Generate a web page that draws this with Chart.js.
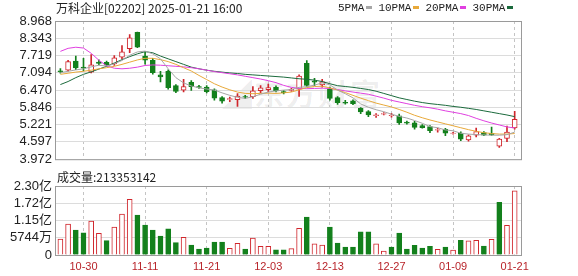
<!DOCTYPE html>
<html>
<head>
<meta charset="utf-8">
<script src="https://cdn.jsdelivr.net/npm/chart.js@4/dist/chart.umd.min.js"></script>
<style>
  body { margin: 0; width: 578px; height: 276px; overflow: hidden; position: relative; background: #fff;
         font-family: "Noto Sans CJK SC", sans-serif; color: #222; }
  canvas { position: absolute; left: 0; z-index: 1; }
  #priceChart { top: 0; }
  #volChart { top: 170px; }
  .txt { position: absolute; z-index: 2; white-space: nowrap; line-height: 16px; }
  #title { left: 56px; top: 0; font-size: 12px; }
  #legend { left: 338px; top: 0; font-size: 11px; font-family: "Liberation Mono", monospace; }
  #legend i { display: inline-block; width: 6px; height: 3px; margin: 0 6px 2px 2px; vertical-align: middle; }
  #volTitle { left: 57px; top: 169px; font-size: 12px; }
  #wm { position: absolute; z-index: 0; left: 222px; top: 70px; font-size: 30px; font-weight: bold;
        color: rgba(0,0,0,0.07); letter-spacing: 2px; }
</style>
</head>
<body>
<div id="wm">◢东方财富</div>
<canvas id="priceChart" width="578" height="170"></canvas>
<canvas id="volChart" width="578" height="106"></canvas>
<div class="txt" id="title">万科企业[02202] 2025-01-21 16:00</div>
<div class="txt" id="legend">5PMA<i style="background:#a6a6a6"></i>10PMA<i style="background:#e8a93a"></i>20PMA<i style="background:#e040e0"></i>30PMA<i style="background:#1b6a3c"></i></div>
<div class="txt" id="volTitle">成交量:213353142</div>
<script>
const dates = ["10-25","10-28","10-29","10-30","10-31","11-01","11-04","11-05","11-06","11-07",
  "11-08","11-11","11-12","11-13","11-14","11-15","11-18","11-19","11-20","11-21",
  "11-22","11-25","11-26","11-27","11-28","11-29","12-02","12-03","12-04","12-05",
  "12-06","12-09","12-10","12-11","12-12","12-13","12-16","12-17","12-18","12-19",
  "12-20","12-23","12-24","12-27","12-30","12-31","01-02","01-03","01-06","01-07",
  "01-08","01-09","01-10","01-13","01-14","01-15","01-16","01-17","01-20","01-21"];
const tickIdx = [3, 11, 19, 27, 35, 43, 51, 59];

const opens = [7.17,7.19,7.52,7.30,7.12,7.48,7.47,7.42,7.66,7.97,
  8.56,7.70,7.55,7.02,7.15,6.63,6.47,6.75,6.60,6.58,
  6.48,6.20,6.13,6.12,6.24,6.23,6.45,6.49,6.57,6.42,
  6.46,6.50,7.44,6.80,6.66,6.52,6.20,6.03,6.08,5.81,
  5.69,5.55,5.60,5.55,5.54,5.31,5.29,5.19,5.15,5.02,
  5.05,4.90,4.92,4.67,4.84,4.93,4.91,4.44,4.72,5.10];
const highs = [7.25,7.55,7.70,7.62,7.75,7.56,7.52,7.72,8.08,8.48,
  8.57,7.85,7.62,7.15,7.20,6.67,6.86,6.81,6.64,6.63,
  6.52,6.24,6.22,6.34,6.28,6.60,6.63,6.69,6.62,6.45,
  6.53,7.02,7.54,6.90,6.86,6.58,6.24,6.10,6.12,5.84,
  5.73,5.62,5.66,5.63,5.60,5.35,5.34,5.22,5.19,5.10,
  5.09,4.94,4.96,4.85,5.10,4.97,5.13,4.73,5.17,5.70];
const lows = [7.08,7.15,7.21,7.17,7.09,7.38,7.33,7.36,7.60,7.82,
  8.00,7.41,7.05,6.77,6.50,6.38,6.40,6.46,6.53,6.37,
  6.11,6.00,6.05,5.88,6.16,6.17,6.37,6.40,6.40,6.33,
  6.42,6.24,6.60,6.63,6.58,6.11,5.95,5.96,5.94,5.62,
  5.51,5.48,5.57,5.49,5.23,5.24,5.06,5.09,4.93,4.95,
  4.82,4.88,4.64,4.62,4.78,4.82,4.83,4.40,4.61,5.06];
const closes = [7.14,7.50,7.27,7.26,7.38,7.43,7.38,7.64,7.85,8.36,
  8.02,7.55,7.10,6.95,6.56,6.42,6.60,6.59,6.57,6.41,
  6.18,6.07,6.16,6.25,6.21,6.44,6.55,6.56,6.44,6.38,
  6.50,6.98,6.64,6.76,6.77,6.17,6.02,6.00,5.98,5.68,
  5.57,5.58,5.62,5.57,5.28,5.27,5.12,5.11,5.00,5.04,
  4.91,4.92,4.70,4.82,4.97,4.84,4.85,4.70,4.95,5.41];

const ma5 = [7.10,7.15,7.20,7.24,7.31,7.37,7.34,7.42,7.54,7.73,
  7.85,7.88,7.78,7.60,7.24,6.92,6.73,6.62,6.55,6.51,
  6.47,6.37,6.28,6.21,6.17,6.23,6.32,6.40,6.44,6.47,
  6.49,6.57,6.59,6.65,6.73,6.66,6.47,6.34,6.19,5.97,
  5.85,5.76,5.69,5.60,5.52,5.46,5.37,5.27,5.15,5.11,
  5.03,5.00,4.91,4.88,4.86,4.85,4.84,4.84,4.86,4.95];
const ma10 = [7.04,7.08,7.12,7.15,7.19,7.24,7.28,7.33,7.40,7.48,
  7.56,7.62,7.62,7.57,7.50,7.40,7.28,7.16,7.00,6.85,
  6.70,6.58,6.48,6.40,6.35,6.34,6.35,6.36,6.35,6.37,
  6.40,6.48,6.56,6.60,6.61,6.55,6.47,6.38,6.28,6.18,
  6.09,6.00,5.93,5.86,5.77,5.67,5.56,5.47,5.39,5.32,
  5.25,5.18,5.11,5.04,4.98,4.93,4.90,4.88,4.88,4.90];
const ma20 = [7.87,7.98,8.02,7.99,7.80,7.55,7.35,7.26,7.24,7.26,
  7.30,7.36,7.38,7.37,7.35,7.33,7.31,7.28,7.24,7.19,
  7.14,7.10,7.06,7.02,6.97,6.92,6.87,6.81,6.74,6.64,
  6.57,6.53,6.52,6.53,6.54,6.53,6.49,6.44,6.40,6.36,
  6.32,6.25,6.18,6.10,6.04,5.98,5.92,5.87,5.83,5.78,
  5.72,5.67,5.62,5.55,5.45,5.36,5.28,5.21,5.14,5.10];
const ma30 = [6.67,6.78,6.92,7.04,7.13,7.23,7.33,7.45,7.57,7.68,
  7.78,7.86,7.82,7.70,7.60,7.50,7.40,7.30,7.24,7.19,
  7.15,7.12,7.09,7.07,7.04,7.02,7.00,6.98,6.96,6.94,
  6.91,6.88,6.86,6.83,6.78,6.70,6.63,6.60,6.57,6.53,
  6.49,6.43,6.35,6.27,6.19,6.13,6.07,6.02,5.98,5.95,
  5.92,5.88,5.85,5.81,5.77,5.72,5.67,5.62,5.57,5.51];

const volumes = [53000000,103000000,83000000,74000000,113000000,72000000,48000000,93000000,136000000,185000000,
  133000000,100000000,83000000,63000000,87000000,41000000,59000000,33000000,20000000,23000000,
  43000000,43000000,22000000,39000000,20000000,56000000,29000000,29000000,17000000,17000000,
  21000000,89000000,126000000,37000000,33000000,93000000,40000000,26000000,26000000,77000000,
  77000000,37000000,13000000,26000000,73000000,20000000,32000000,23000000,29000000,19000000,
  26000000,16000000,49000000,47000000,49000000,30000000,52000000,175000000,99000000,213353142];

const priceTicks = [3.972, 4.597, 5.221, 5.846, 6.470, 7.094, 7.719, 8.343, 8.968];
const volTicks = [0, 57440000, 114880000, 172320000, 229760000];
const volTickLabels = ["0", "5744万", "1.15亿", "1.72亿", "2.30亿"];

const RED = "#d0262c";
const GREEN = "#13801c";

const candleUp = closes.map((c, i) => c > opens[i]);
const volUp = closes.map((c, i) => i === 0 || c > closes[i - 1]);

const frame = {
  id: "frame",
  beforeDatasetsDraw(chart) {
    const { ctx, chartArea: a } = chart;
    ctx.save();
    ctx.strokeStyle = "#9a9a9a";
    ctx.lineWidth = 1;
    ctx.strokeRect(a.left + 0.5, a.top + 0.5, a.right - a.left - 1, a.bottom - a.top);
    ctx.restore();
  }
};

const xScale = (showLabels) => ({
  type: "linear",
  min: -0.7,
  max: 59.95,
  offset: false,
  afterBuildTicks: (s) => { s.ticks = tickIdx.map(v => ({ value: v })); },
  afterFit: (s) => { s.height = showLabels ? 21 : 0; },
  grid: { color: "#c4c4c4", drawTicks: false, offset: false },
  border: { display: false, dash: [3, 3] },
  ticks: {
    display: showLabels,
    padding: 5,
    maxRotation: 0,
    autoSkip: false,
    color: "#b8242a",
    font: { family: "Liberation Sans", size: 11 },
    callback: (v) => dates[v]
  }
});

const yTicks = (labelFn, family) => ({
  padding: 3,
  autoSkip: false,
  color: "#222",
  font: { family, size: 13 },
  callback: labelFn
});

const maLine = (label, values, color) => ({
  type: "line",
  label,
  data: values.map((v, i) => ({ x: i, y: v })),
  borderColor: color,
  borderWidth: 1,
  pointRadius: 0,
  fill: false,
  order: 1
});

new Chart(document.getElementById("priceChart"), {
  type: "bar",
  data: {
    datasets: [
      maLine("5PMA", ma5, "#a6a6a6"),
      maLine("10PMA", ma10, "#e8a93a"),
      maLine("20PMA", ma20, "#e040e0"),
      maLine("30PMA", ma30, "#1b6a3c"),
      {
        type: "bar",
        label: "body",
        data: opens.map((o, i) => ({ x: i, y: [o, closes[i]] })),
        backgroundColor: candleUp.map(u => u ? "#ffffff" : GREEN),
        borderColor: candleUp.map(u => u ? RED : GREEN),
        borderWidth: 1,
        borderSkipped: false,
        barThickness: 5,
        grouped: false,
        order: 2
      },
      {
        type: "bar",
        label: "wick",
        data: lows.map((l, i) => ({ x: i, y: [l, highs[i]] })),
        backgroundColor: candleUp.map(u => u ? RED : GREEN),
        borderWidth: 0,
        barThickness: 1,
        grouped: false,
        order: 3
      }
    ]
  },
  options: {
    responsive: false,
    animation: false,
    layout: { padding: { left: 0, right: 56, top: 21, bottom: 5 } },
    plugins: { legend: { display: false }, tooltip: { enabled: false } },
    scales: {
      x: xScale(false),
      y: {
        min: 3.972,
        max: 8.968,
        afterBuildTicks: (s) => { s.ticks = priceTicks.map(v => ({ value: v })); },
        afterFit: (s) => { s.width = 55; },
        grid: { color: "#dcdcdc", drawTicks: false },
        border: { display: false },
        ticks: yTicks((v) => v.toFixed(3), "Liberation Sans")
      }
    }
  },
  plugins: [frame]
});

new Chart(document.getElementById("volChart"), {
  type: "bar",
  data: {
    datasets: [{
      label: "成交量",
      data: volumes.map((v, i) => ({ x: i, y: v })),
      backgroundColor: volUp.map(u => u ? "#ffffff" : GREEN),
      borderColor: volUp.map(u => u ? RED : GREEN),
      borderWidth: 1,
      barThickness: 5,
      grouped: false
    }]
  },
  options: {
    responsive: false,
    animation: false,
    layout: { padding: { left: 0, right: 56, top: 16, bottom: 0 } },
    plugins: { legend: { display: false }, tooltip: { enabled: false } },
    scales: {
      x: xScale(true),
      y: {
        min: 0,
        max: 229760000,
        afterBuildTicks: (s) => { s.ticks = volTicks.map(v => ({ value: v })); },
        afterFit: (s) => { s.width = 55; },
        grid: { color: "#dcdcdc", drawTicks: false },
        border: { display: false },
        ticks: yTicks((v) => volTickLabels[volTicks.indexOf(v)], "Liberation Sans, Noto Sans CJK SC")
      }
    }
  },
  plugins: [frame]
});
</script>
</body>
</html>
